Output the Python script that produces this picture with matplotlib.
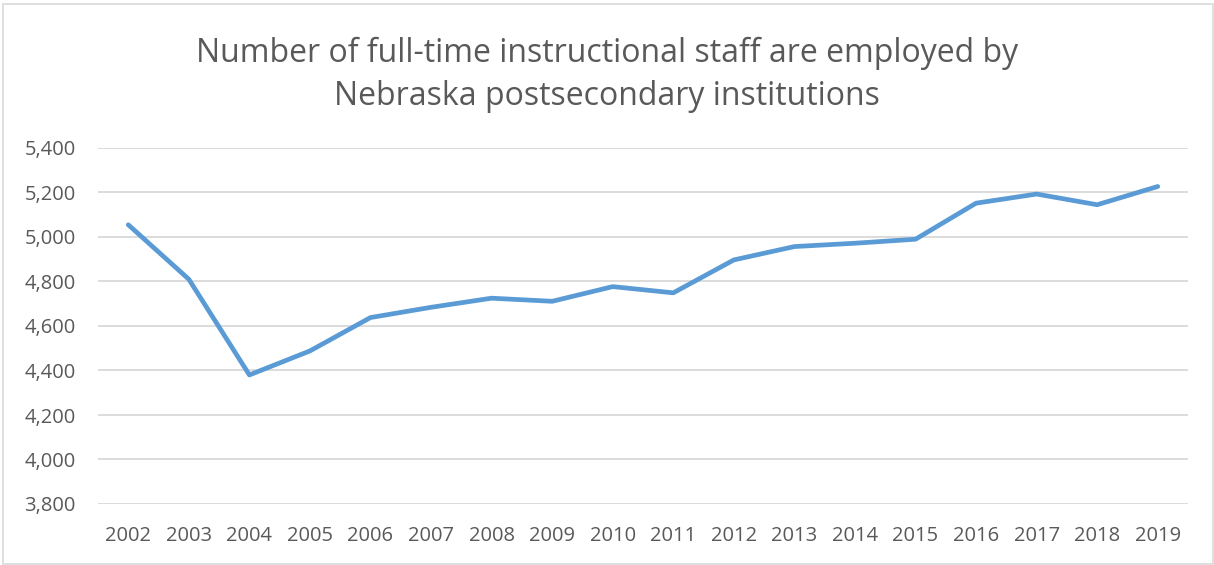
import matplotlib
matplotlib.use("Agg")
import matplotlib.pyplot as plt
from matplotlib.ticker import FuncFormatter

years = ["2002", "2003", "2004", "2005", "2006", "2007", "2008", "2009", "2010",
         "2011", "2012", "2013", "2014", "2015", "2016", "2017", "2018", "2019"]
staff = [5055, 4810, 4380, 4488, 4638, 4684, 4725, 4711, 4777,
         4749, 4897, 4957, 4972, 4990, 5152, 5193, 5145, 5227]
y_ticks = [3800, 4000, 4200, 4400, 4600, 4800, 5000, 5200, 5400]
title = "Number of full-time instructional staff are employed by\nNebraska postsecondary institutions"

plt.rcParams['font.family'] = ['Open Sans', 'DejaVu Sans']
text_color = "#595959"

fig = plt.figure(figsize=(12.14, 5.65), dpi=100)
ax = fig.add_axes([98/1214, 1 - 504/565, (1188 - 98)/1214, (504 - 148)/565])

x = list(range(len(years)))
ax.plot(x, staff, color="#5b9bd5", linewidth=3.4, solid_capstyle="round", solid_joinstyle="round", zorder=3)

ax.set_xlim(-0.5, len(years) - 0.5)
ax.set_ylim(3800, 5400)
ax.set_yticks(y_ticks)
ax.yaxis.set_major_formatter(FuncFormatter(lambda v, p: f"{int(v):,}"))
ax.set_xticks(x)
ax.set_xticklabels(years)
ax.grid(axis="y", color="#d9d9d9", linewidth=1.3, zorder=0)
ax.set_axisbelow(True)
for s in ax.spines.values():
    s.set_visible(False)
ax.tick_params(axis="both", length=0, colors=text_color, labelsize=14.5)
ax.tick_params(axis="y", pad=16)
ax.tick_params(axis="x", pad=16)

fig.text(0.5, 1 - 75/565, title, ha="center", va="center", fontsize=23, color=text_color, linespacing=1.42)

# chart border
border = plt.Rectangle((3/1214, 0.002), 1 - 4/1214, 1 - 4/565 - 0.002, transform=fig.transFigure,
                       fill=False, edgecolor="#d9d9d9", linewidth=1.2)
fig.add_artist(border)

fig.savefig("out.png", dpi=100, facecolor="white")
